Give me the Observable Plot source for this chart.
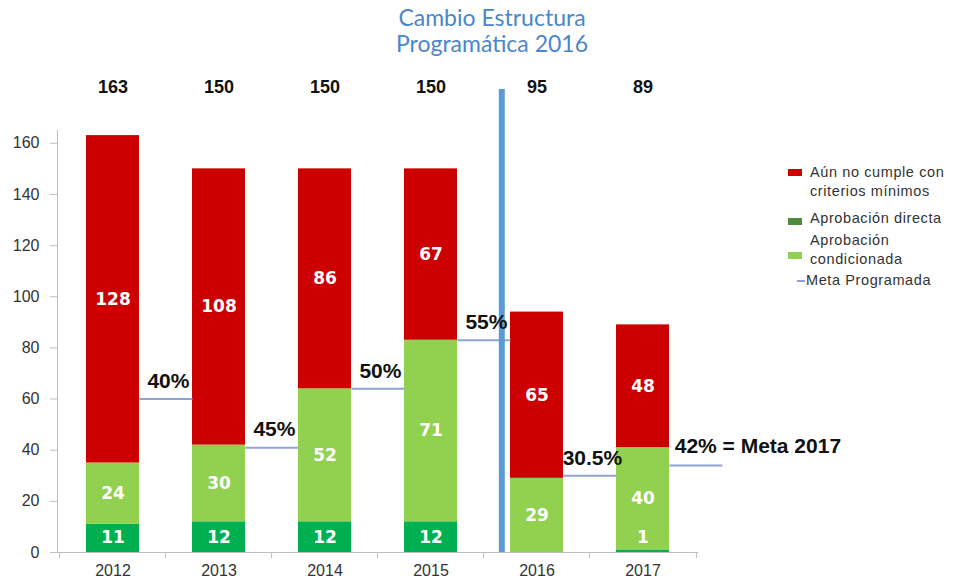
<!DOCTYPE html>
<html>
<head>
<meta charset="utf-8">
<script src="https://cdn.jsdelivr.net/npm/d3@7"></script>
<script src="https://cdn.jsdelivr.net/npm/@observablehq/plot@0.6"></script>
<style>
  body { margin: 0; background: #fff; }
  #wrap { position: relative; width: 953px; height: 586px; font-family: "Liberation Sans", Arial, sans-serif; }
  #title { position: absolute; top: 4px; left: 362px; width: 260px; text-align: center; font: 23px Lato, "Open Sans", sans-serif; line-height: 26px; color: #4a86c8; }
  #legend { position: absolute; left: 788px; top: 163px; font-size: 14.5px; letter-spacing: 0.6px; color: #333; }
  .item { position: absolute; left: 0; white-space: nowrap; }
  .sw { position: absolute; left: 0; width: 14px; height: 7px; }
  .tx { position: absolute; left: 22px; line-height: 19px; }
  .ln { position: absolute; left: 9px; width: 8px; height: 2px; }
  g[aria-label="y-axis tick"] { stroke: #bfbfbf; }
</style>
</head>
<body>
<div id="wrap">
  <div id="title">Cambio Estructura<br>Programática 2016</div>
  <div id="chart"></div>
  <div id="legend"></div>
</div>
<script>
// ---- data ----
const years = ["2012", "2013", "2014", "2015", "2016", "2017"];
const series = ["Aprobación directa", "Aprobación condicionada", "Aún no cumple con criterios mínimos"];
const directa = [11, 12, 12, 12, 0, 1];
const condicionada = [24, 30, 52, 71, 29, 40];
const noCumple = [128, 108, 86, 67, 65, 48];
const totals = [163, 150, 150, 150, 95, 89];
const metaValues = [60, 41, 64, 83, 30, 34];
const metaLabels = ["40%", "45%", "50%", "55%", "30.5%", "42% = Meta 2017"];
const yTicks = [0, 20, 40, 60, 80, 100, 120, 140, 160];
const dividerYear = "2016";
const barColors = ["#00b050", "#92d050", "#cc0000"];
const legendItems = [
  {lines: ["Aún no cumple con", "criterios mínimos"], color: "#cc0000", kind: "swatch"},
  {lines: ["Aprobación directa"], color: "#4e8b3a", kind: "swatch"},
  {lines: ["Aprobación", "condicionada"], color: "#92d050", kind: "swatch"},
  {lines: ["Meta Programada"], color: "#8fa2d4", kind: "line"}
];

// ---- layout ----
const width = 953, height = 586;
const marginLeft = 57, marginRight = 255, marginTop = 130, marginBottom = 34;
const step = (width - marginLeft - marginRight) / years.length;
const bandwidth = step * 0.5;

// ---- derived tables ----
const valuesBySeries = [directa, condicionada, noCumple];
const rows = [];
const segLabels = [];
years.forEach((year, i) => {
  let cum = 0;
  series.forEach((s, k) => {
    const v = valuesBySeries[k][i];
    rows.push({year, series: s, value: v});
    if (v > 0) segLabels.push({year, y: Math.max(cum + v / 2, 6), text: String(v)});
    cum += v;
  });
});
const metaRows = years.map((year, i) => ({year, meta: metaValues[i], label: metaLabels[i]}));
const totalRows = years.map((year, i) => ({year, total: String(totals[i])}));

const chart = Plot.plot({
  width, height, marginLeft, marginRight, marginTop, marginBottom,
  style: {fontFamily: "'Liberation Sans', Arial, sans-serif", fontSize: "16px", color: "#333", background: "transparent"},
  x: {type: "band", domain: years, paddingInner: 0.5, paddingOuter: 0.25, label: null},
  y: {domain: [0, 165], label: null},
  color: {domain: series, range: barColors},
  marks: [
    Plot.frame({anchor: "left", stroke: "#bfbfbf"}),
    Plot.ruleY([0], {stroke: "#bfbfbf"}),
    Plot.ruleX(years, {dx: -step / 2, y1: 0, y2: 0, insetBottom: -6, stroke: "#bfbfbf"}),
    Plot.ruleX([years[years.length - 1]], {dx: step / 2, y1: 0, y2: 0, insetBottom: -6, stroke: "#bfbfbf"}),
    Plot.axisY({ticks: yTicks, tickSize: 7, tickPadding: 11, fontSize: 16, label: null}),
    Plot.axisX({tickSize: 0, tickPadding: 12, fontSize: 16, label: null}),
    Plot.barY(rows, {x: "year", y: "value", fill: "series"}),
    Plot.text(segLabels, {x: "year", y: "y", text: "text", fill: "white", fontWeight: "bold", fontSize: 17, fontFamily: "'DejaVu Sans', sans-serif"}),
    Plot.tickY(metaRows, {x: "year", y: "meta", dx: step / 2, stroke: "#8fa2d4", strokeWidth: 2}),
    Plot.ruleX([dividerYear], {dx: -bandwidth / 2 - 8.5, insetTop: -41, stroke: "#5b9bd5", strokeWidth: 6}),
    Plot.text(metaRows.slice(0, -1), {x: "year", y: "meta", text: "label", dx: step / 2 + 2, dy: -18, fontSize: 21, fontWeight: "bold", fill: "#111"}),
    Plot.text(metaRows.slice(-1), {x: "year", y: "meta", text: "label", dx: bandwidth / 2 + 5, dy: -19, textAnchor: "start", fontSize: 21, fontWeight: "bold", fill: "#111"}),
    Plot.text(totalRows, {x: "year", text: "total", frameAnchor: "top", dy: -50, fontSize: 18, fontWeight: "bold", fill: "#111"})
  ]
});
document.getElementById("chart").appendChild(chart);

// ---- legend ----
const legend = document.getElementById("legend");
const tops = [0, 46, 68, 108];
const markTops = [6, 9, 21, 9];
legendItems.forEach((it, i) => {
  const div = document.createElement("div");
  div.className = "item";
  div.style.top = tops[i] + "px";
  const mark = document.createElement("div");
  mark.className = it.kind === "swatch" ? "sw" : "ln";
  mark.style.top = markTops[i] + "px";
  mark.style.background = it.color;
  const tx = document.createElement("div");
  tx.className = "tx";
  if (it.kind === "line") tx.style.left = "18px";
  tx.innerHTML = it.lines.join("<br>");
  div.appendChild(mark);
  div.appendChild(tx);
  legend.appendChild(div);
});
</script>
</body>
</html>
